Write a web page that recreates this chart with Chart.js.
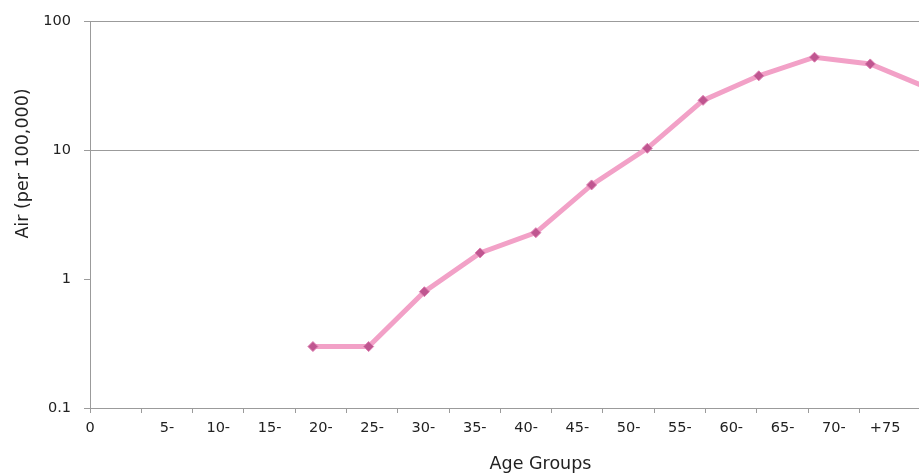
<!DOCTYPE html>
<html>
<head>
<meta charset="utf-8">
<script src="https://cdn.jsdelivr.net/npm/chart.js@4/dist/chart.umd.min.js"></script>
<style>
html,body{margin:0;padding:0;background:#fff;overflow:hidden}
#wrap{width:919px;height:475px;position:relative}
canvas{display:block}
</style>
</head>
<body>
<div id="wrap"><canvas id="c" width="919" height="475"></canvas></div>
<script>
// ---- data ----
const CATEGORIES = ['0','5-','10-','15-','20-','25-','30-','35-','40-','45-','50-','55-','60-','65-','70-','+75'];
const AIR_VALUES = [null, null, null, null, 0.3, 0.3, 0.8, 1.6, 2.3, 5.4, 10.4, 24.5, 38, 53, 47, 31];
const Y_TICKS = [0.1, 1, 10, 100];
const Y_GRID_VALUES = [10, 100];
const X_TITLE = 'Age Groups';
const Y_TITLE = 'Air (per 100,000)';

// ---- styles ----
const GRAY = '#9b9b9b';
const TEXT = '#222222';
const FONT = 'DejaVu Sans';

// tick positions of the label axis: boundaries at integers, labels centred between them
const LABEL_TICKS = [0];
for (let k = 1; k < CATEGORIES.length; k++) { LABEL_TICKS.push(k, k + 0.5); }

const points = AIR_VALUES.map((v, i) => ({ x: i, y: v }));

const axisTitles = {
  id: 'axisTitles',
  afterDraw(chart) {
    const ctx = chart.ctx;
    ctx.save();
    ctx.fillStyle = TEXT;
    ctx.font = '17.5px "' + FONT + '"';
    ctx.textAlign = 'center';
    ctx.textBaseline = 'alphabetic';
    ctx.fillText(X_TITLE, 540.5, 469);
    ctx.translate(28, 163.5);
    ctx.rotate(-Math.PI / 2);
    ctx.fillText(Y_TITLE, 0, 0);
    ctx.restore();
  }
};

new Chart(document.getElementById('c'), {
  type: 'line',
  data: {
    datasets: [{
      data: points,
      xAxisID: 'xd',
      yAxisID: 'y',
      borderColor: '#F2A1C7',
      borderWidth: 5,
      pointStyle: 'rectRot',
      pointRadius: 5,
      pointBackgroundColor: '#BF5690',
      pointBorderColor: '#DC7CAE',
      pointBorderWidth: 1,
      tension: 0,
      spanGaps: false
    }]
  },
  options: {
    responsive: false,
    animation: false,
    devicePixelRatio: 1,
    layout: { autoPadding: false, padding: { top: 20, right: 0, left: 0, bottom: 0 } },
    plugins: { legend: { display: false }, tooltip: { enabled: false } },
    scales: {
      xd: {
        type: 'linear',
        display: false,
        min: 0,
        max: 14.875
      },
      x: {
        type: 'linear',
        position: 'bottom',
        min: 0,
        max: 16.16,
        afterBuildTicks(axis) { axis.ticks = LABEL_TICKS.map(v => ({ value: v })); },
        afterFit(axis) { axis.height = 67; },
        border: { display: true, color: GRAY, width: 1 },
        grid: {
          drawOnChartArea: false,
          drawTicks: true,
          tickLength: 5,
          tickColor: ctx => (ctx.tick && Number.isInteger(ctx.tick.value)) ? GRAY : 'rgba(0,0,0,0)'
        },
        ticks: {
          autoSkip: false,
          maxRotation: 0,
          minRotation: 0,
          padding: 7,
          color: TEXT,
          font: { family: FONT, size: 14.5 },
          callback: (value) => {
            if (value === 0) return CATEGORIES[0];
            if (Number.isInteger(value)) return '';
            return CATEGORIES[Math.floor(value)];
          }
        }
      },
      y: {
        type: 'logarithmic',
        position: 'left',
        min: 0.1,
        max: 100,
        afterBuildTicks(axis) { axis.ticks = Y_TICKS.map(v => ({ value: v })); },
        afterFit(axis) { axis.width = 90; },
        border: { display: true, color: GRAY, width: 1 },
        grid: {
          color: ctx => (ctx.tick && Y_GRID_VALUES.includes(ctx.tick.value)) ? GRAY : 'rgba(0,0,0,0)',
          tickColor: GRAY,
          tickLength: 6,
          lineWidth: 1
        },
        ticks: {
          padding: 13,
          color: TEXT,
          font: { family: FONT, size: 14.5 },
          callback: (value) => String(value)
        }
      }
    }
  },
  plugins: [axisTitles]
});
</script>
</body>
</html>
